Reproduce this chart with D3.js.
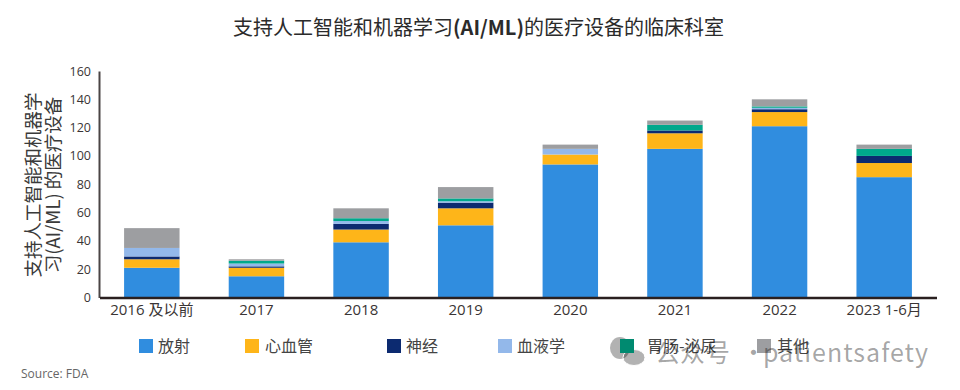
<!DOCTYPE html>
<html>
<head>
<meta charset="utf-8">
<script src="https://cdn.jsdelivr.net/npm/d3@7"></script>
<style>
  html, body { margin: 0; padding: 0; background: #fff; }
</style>
</head>
<body>
<div id="chart"></div>
<script>
// Chart values
var years = ["2016 及以前", "2017", "2018", "2019", "2020", "2021", "2022", "2023 1-6月"];
var fangshe = [21, 15, 39, 51, 94, 105, 121, 85];
var xinxueguan = [6, 6, 9, 12, 7, 11, 10, 10];
var shenjing = [2, 1, 4, 4, 0, 2, 2, 5];
var xueye = [6, 2, 2, 1, 4, 0, 1, 0];
var weichang = [0, 2, 2, 2, 0, 4, 1, 5];
var qita = [14, 1, 7, 8, 3, 3, 5, 3];
var yTicks = [0, 20, 40, 60, 80, 100, 120, 140, 160];

var seriesNames = ["放射", "心血管", "神经", "血液学", "胃肠-泌尿", "其他"];
var seriesColors = ["#308ddf", "#feb519", "#0c2a70", "#93b8ea", "#00a88c", "#9d9ea1"];
var seriesValues = [fangshe, xinxueguan, shenjing, xueye, weichang, qita];

var cjk = "'Noto Sans CJK SC', sans-serif";

var margin = { top: 71, right: 23, bottom: 92.5, left: 99 };
var width = 960 - margin.left - margin.right;
var height = 390 - margin.top - margin.bottom;

var svg = d3.select("#chart").append("svg")
  .attr("width", 960)
  .attr("height", 390)
  .style("display", "block");

var g = svg.append("g")
  .attr("transform", "translate(" + margin.left + "," + margin.top + ")");

var xScale = d3.scaleBand().domain(years).range([0.5, width - 0.5]).paddingInner(0.47).paddingOuter(0.235);
var yScale = d3.scaleLinear().domain([0, 160]).range([height, 0]);

// Stack the series per year
var rows = years.map(function (year, i) {
  var row = { year: year };
  seriesNames.forEach(function (name, s) { row[name] = seriesValues[s][i]; });
  return row;
});
var stacked = d3.stack().keys(seriesNames)(rows);

g.selectAll("g.layer")
  .data(stacked)
  .enter()
  .append("g")
  .attr("class", "layer")
  .attr("fill", function (d, i) { return seriesColors[i]; })
  .selectAll("rect")
  .data(function (d) { return d; })
  .enter()
  .append("rect")
  .attr("x", function (d) { return xScale(d.data.year); })
  .attr("y", function (d) { return yScale(d[1]); })
  .attr("width", xScale.bandwidth())
  .attr("height", function (d) { return yScale(d[0]) - yScale(d[1]); });

// Axes
var yAxis = g.append("g")
  .call(d3.axisLeft(yScale).tickValues(yTicks).tickSize(0).tickPadding(8));
yAxis.select(".domain").attr("stroke", "#4a4545").attr("stroke-width", 2);
yAxis.selectAll("text")
  .attr("font-family", "'Open Sans', sans-serif")
  .attr("font-size", 12.5)
  .attr("fill", "#3a3535");

var xAxis = g.append("g")
  .attr("transform", "translate(0," + height + ")")
  .call(d3.axisBottom(xScale).tickSize(0).tickPadding(7));
xAxis.select(".domain").attr("stroke", "#2a2020").attr("stroke-width", 2.5);
xAxis.selectAll("text")
  .attr("font-family", "'Open Sans', " + cjk)
  .attr("font-size", 15)
  .attr("fill", "#3a3535");

// Title, the AI/ML part is bold
var title = svg.append("text")
  .attr("x", 478.5)
  .attr("y", 35)
  .attr("text-anchor", "middle")
  .attr("font-family", cjk)
  .attr("font-size", 20)
  .attr("fill", "#2b2b2b");
title.append("tspan").text("支持人工智能和机器学习");
title.append("tspan").attr("font-weight", 700).text("(AI/ML)");
title.append("tspan").text("的医疗设备的临床科室");

// Y axis label, two rotated lines
var yLabel = svg.append("text")
  .attr("transform", "translate(40,185) rotate(-90)")
  .attr("text-anchor", "middle")
  .attr("font-family", cjk)
  .attr("font-size", 18.5)
  .attr("fill", "#3a3a3a");
yLabel.append("tspan").attr("x", 0).attr("y", 0).text("支持人工智能和机器学");
yLabel.append("tspan").attr("x", 0).attr("y", 20).text("习(AI/ML) 的医疗设备");

// Watermark icon sits under the legend
var bubbles = svg.append("g").attr("fill", "#000").attr("fill-opacity", 0.3);
bubbles.append("ellipse").attr("cx", 620).attr("cy", 348).attr("rx", 10).attr("ry", 11);
bubbles.append("ellipse").attr("cx", 634).attr("cy", 357.5).attr("rx", 11).attr("ry", 8)
  .attr("stroke", "#fff").attr("stroke-width", 1);

// Legend
var legendX = [139, 245, 387, 498, 620, 757];
var legendGap = [19, 20, 19, 19, 27, 20];
var legend = svg.selectAll("g.legend")
  .data(seriesNames)
  .enter()
  .append("g")
  .attr("class", "legend")
  .attr("transform", function (d, i) { return "translate(" + legendX[i] + ",339)"; });
legend.append("rect")
  .attr("width", 14)
  .attr("height", 14)
  .attr("fill", function (d, i) { return i === 4 ? "#008a70" : seriesColors[i]; });
legend.append("text")
  .attr("x", function (d, i) { return legendGap[i]; })
  .attr("y", 13)
  .attr("font-family", cjk)
  .attr("font-size", 16)
  .attr("fill", "#444")
  .text(function (d) { return d; });

// Source
svg.append("text")
  .attr("x", 21)
  .attr("y", 378)
  .attr("font-family", "'Open Sans', sans-serif")
  .attr("font-size", 12)
  .attr("fill", "#666")
  .text("Source: FDA");

// Watermark
var mark = svg.append("text")
  .attr("y", 362)
  .attr("font-family", cjk)
  .attr("fill", "#000")
  .attr("fill-opacity", 0.36);
mark.append("tspan").attr("x", 655).attr("font-size", 25).text("公众号");
mark.append("tspan").attr("x", 741).attr("font-size", 25).text("·");
mark.append("tspan").attr("x", 763).attr("font-size", 25).attr("letter-spacing", 1).text("patientsafety");
</script>
</body>
</html>
